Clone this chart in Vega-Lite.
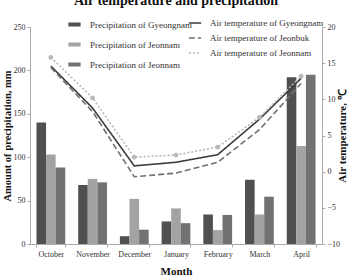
{
  "$schema": "https://vega.github.io/schema/vega-lite/v6.json",
  "width": 292,
  "height": 217,
  "autosize": "none",
  "padding": {"left": 30, "top": 27, "right": 34, "bottom": 32},
  "title": {"text": "Air temperature and precipitation", "font": "Liberation Serif", "fontSize": 14, "fontWeight": "bold", "anchor": "middle", "offset": 8, "color": "#111"},
  "config": {
    "font": "Liberation Serif",
    "view": {"stroke": null},
    "axis": {"grid": false, "domainColor": "#aaa", "tickColor": "#aaa", "labelFont": "Liberation Serif", "labelFontSize": 8, "labelColor": "#333", "titleFont": "Liberation Serif", "titleFontWeight": "bold", "titleFontSize": 11, "titleColor": "#111", "tickSize": 3},
    "legend": {"labelFont": "Liberation Serif", "labelFontSize": 9, "labelColor": "#333"}
  },
  "datasets": {
    "bars": [
      {"month": "October", "region": "Gyeongnam", "value": 140},
      {"month": "October", "region": "Jeonbuk", "value": 103},
      {"month": "October", "region": "Jeonnam", "value": 88},
      {"month": "November", "region": "Gyeongnam", "value": 68},
      {"month": "November", "region": "Jeonbuk", "value": 75},
      {"month": "November", "region": "Jeonnam", "value": 71},
      {"month": "December", "region": "Gyeongnam", "value": 9},
      {"month": "December", "region": "Jeonbuk", "value": 52},
      {"month": "December", "region": "Jeonnam", "value": 16.5},
      {"month": "January", "region": "Gyeongnam", "value": 26},
      {"month": "January", "region": "Jeonbuk", "value": 41},
      {"month": "January", "region": "Jeonnam", "value": 24},
      {"month": "February", "region": "Gyeongnam", "value": 34},
      {"month": "February", "region": "Jeonbuk", "value": 16},
      {"month": "February", "region": "Jeonnam", "value": 33.5},
      {"month": "March", "region": "Gyeongnam", "value": 74},
      {"month": "March", "region": "Jeonbuk", "value": 34},
      {"month": "March", "region": "Jeonnam", "value": 54.5},
      {"month": "April", "region": "Gyeongnam", "value": 192},
      {"month": "April", "region": "Jeonbuk", "value": 113},
      {"month": "April", "region": "Jeonnam", "value": 195}
    ],
    "temps": [
      {"month": "October", "region": "Air temperature of Gyeongnam", "temp": 14.6},
      {"month": "November", "region": "Air temperature of Gyeongnam", "temp": 8.8},
      {"month": "December", "region": "Air temperature of Gyeongnam", "temp": 0.8},
      {"month": "January", "region": "Air temperature of Gyeongnam", "temp": 1.3},
      {"month": "February", "region": "Air temperature of Gyeongnam", "temp": 2.35},
      {"month": "March", "region": "Air temperature of Gyeongnam", "temp": 7.25},
      {"month": "April", "region": "Air temperature of Gyeongnam", "temp": 12.9},
      {"month": "October", "region": "Air temperature of Jeonbuk", "temp": 14.4},
      {"month": "November", "region": "Air temperature of Jeonbuk", "temp": 8.3},
      {"month": "December", "region": "Air temperature of Jeonbuk", "temp": -0.7},
      {"month": "January", "region": "Air temperature of Jeonbuk", "temp": -0.2},
      {"month": "February", "region": "Air temperature of Jeonbuk", "temp": 1.3},
      {"month": "March", "region": "Air temperature of Jeonbuk", "temp": 5.8},
      {"month": "April", "region": "Air temperature of Jeonbuk", "temp": 12.2},
      {"month": "October", "region": "Air temperature of Jeonnam", "temp": 15.8},
      {"month": "November", "region": "Air temperature of Jeonnam", "temp": 10.2},
      {"month": "December", "region": "Air temperature of Jeonnam", "temp": 2.0},
      {"month": "January", "region": "Air temperature of Jeonnam", "temp": 2.3},
      {"month": "February", "region": "Air temperature of Jeonnam", "temp": 3.4},
      {"month": "March", "region": "Air temperature of Jeonnam", "temp": 7.5},
      {"month": "April", "region": "Air temperature of Jeonnam", "temp": 13.2}
    ]
  },
  "layer": [
    {
      "data": {"name": "bars"},
      "mark": {"type": "bar"},
      "encoding": {
        "x": {"field": "month", "type": "nominal", "sort": ["October", "November", "December", "January", "February", "March", "April"], "scale": {"paddingInner": 0.31, "paddingOuter": 0.155}, "axis": {"title": "Month", "labelAngle": 0, "titlePadding": 7, "tickBand": "extent", "labelPadding": 3}},
        "xOffset": {"field": "region", "type": "nominal", "sort": ["Gyeongnam", "Jeonbuk", "Jeonnam"]},
        "y": {"field": "value", "type": "quantitative", "scale": {"domain": [0, 250]}, "axis": {"title": "Amount of precipitation, mm", "values": [0, 50, 100, 150, 200, 250], "titlePadding": 1, "titleFontSize": 10.5}},
        "color": {"field": "region", "type": "nominal", "scale": {"domain": ["Gyeongnam", "Jeonbuk", "Jeonnam"], "range": ["#505050", "#a3a3a3", "#727272"]},
          "legend": {"title": null, "orient": "none", "legendX": 36, "legendY": -11, "symbolType": "stroke", "symbolSize": 150, "symbolStrokeWidth": 4, "rowPadding": 3, "labelOffset": 7,
            "labelExpr": "datum.label == 'Gyeongnam' ? 'Precipitation of Gyeongnam' : 'Precipitation of Jeonnam'",
            "encode": {"symbols": {"update": {"stroke": {"signal": "datum.value == 'Gyeongnam' ? '#505050' : datum.value == 'Jeonbuk' ? '#a3a3a3' : '#727272'"}, "strokeWidth": {"value": 4}}}}}}
      }
    },
    {
      "data": {"name": "temps"},
      "encoding": {
        "x": {"field": "month", "type": "nominal", "sort": ["October", "November", "December", "January", "February", "March", "April"]},
        "y": {"field": "temp", "type": "quantitative", "scale": {"domain": [-10, 20]}, "axis": {"orient": "right", "title": "Air temperature, ℃", "titleAngle": 270, "values": [-10, -5, 0, 5, 10, 15, 20], "titlePadding": 8}}
      },
      "layer": [
        {
          "mark": {"type": "line", "strokeWidth": 1.6},
          "encoding": {
            "color": {"field": "region", "type": "nominal", "scale": {"range": ["#3c3c3c", "#707070", "#b8b8b8"]},
              "legend": {"title": null, "orient": "none", "legendX": 158, "legendY": -11, "symbolType": "stroke", "symbolSize": 150, "symbolStrokeWidth": 1.5, "rowPadding": 3, "labelOffset": 8}},
            "strokeDash": {"field": "region", "type": "nominal", "scale": {"range": [[1, 0], [6, 3], [2, 2]]}}
          }
        },
        {
          "transform": [{"filter": "datum.region == 'Air temperature of Jeonnam'"}],
          "mark": {"type": "point", "filled": true, "size": 22, "color": "#b8b8b8", "opacity": 1},
          "encoding": {}
        }
      ]
    }
  ],
  "resolve": {"scale": {"y": "independent", "color": "independent", "strokeDash": "independent"}}
}
